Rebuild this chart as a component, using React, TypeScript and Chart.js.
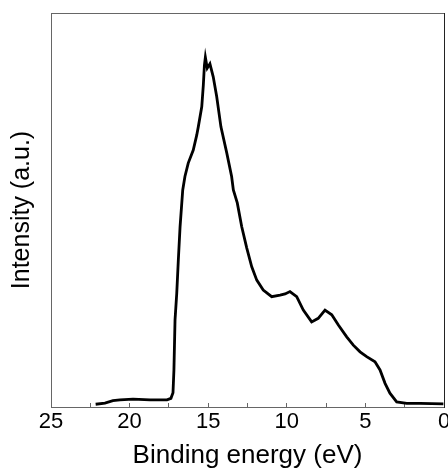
import React, { useEffect, useRef } from "react";
import { Chart, registerables } from "chart.js";

Chart.register(...registerables);

// Binding energy (eV) and intensity (a.u.)
const energy = [
  22.16, 21.57, 21.06, 20.61, 19.78, 18.7, 17.62, 17.37, 17.24, 17.18, 17.11, 17.0,
  16.9, 16.79, 16.62, 16.48, 16.27, 15.95, 15.73, 15.63, 15.41, 15.31, 15.24, 15.18,
  15.06, 14.89, 14.68, 14.46, 14.19, 13.82, 13.51, 13.4, 13.15, 12.87, 12.55, 12.23,
  11.91, 11.5, 10.96, 10.43, 10.11, 9.8, 9.37, 8.95, 8.42, 8.0, 7.57, 7.14, 6.72,
  6.19, 5.77, 5.34, 4.92, 4.39, 4.07, 3.75, 3.44, 3.01, 2.37, 1.53, 0.04,
];
const intensity = [
  0.7, 1.0, 1.6, 1.8, 2.0, 1.8, 1.8, 2.2, 3.6, 9.4, 22.1, 28.9,
  37.3, 45.7, 55.1, 58.5, 61.9, 65.2, 69.0, 71.1, 76.2, 81.7, 86.8, 88.8,
  86.0, 87.1, 83.8, 78.8, 71.1, 64.5, 58.5, 55.1, 51.8, 45.8, 40.4, 35.6,
  32.2, 29.7, 28.0, 28.4, 28.7, 29.3, 28.0, 24.6, 21.6, 22.5, 24.6, 23.4, 20.8,
  17.8, 15.7, 14.0, 12.8, 11.5, 9.4, 6.0, 3.5, 1.3, 0.9, 0.9, 0.8,
];
const xMin = 0;
const xMax = 25;
const xStep = 2.5;
const xTitle = "Binding energy (eV)";
const yTitle = "Intensity (a.u.)";

export default function App() {
  const ref = useRef<HTMLCanvasElement>(null);
  useEffect(() => {
    document.body.style.margin = "0";
    const ctx = ref.current!;
    const frame = "#666666";
    const chart = new Chart(ctx, {
      type: "line",
      data: {
        datasets: [
          {
            data: energy.map((e, i) => ({ x: e, y: intensity[i] })),
            borderColor: "#000000",
            borderWidth: 2.8,
            pointRadius: 0,
            tension: 0,
            fill: false,
          },
        ],
      },
      options: {
        animation: false,
        responsive: false,
        devicePixelRatio: 1,
        layout: { padding: 0 },
        plugins: { legend: { display: false }, tooltip: { enabled: false } },
        scales: {
          x: {
            type: "linear",
            position: "bottom",
            reverse: true,
            min: xMin,
            max: xMax,
            afterFit: (s: any) => {
              s.height = 62;
              s.paddingLeft = 0;
              s.paddingRight = 0;
            },
            ticks: {
              stepSize: xStep,
              autoSkip: false,
              maxRotation: 0,
              padding: 8,
              color: "#000",
              font: { family: "Liberation Sans, Arial", size: 22, lineHeight: 1 },
              callback: (v: any) => (Number(v) % 5 === 0 ? String(v) : ""),
            },
            grid: {
              display: true,
              drawOnChartArea: false,
              drawTicks: true,
              tickLength: -4,
              tickColor: frame,
              lineWidth: 1,
            },
            border: { display: true, color: frame, width: 1 },
            title: {
              display: true,
              text: xTitle,
              color: "#000",
              font: { family: "Liberation Sans, Arial", size: 26, lineHeight: 1 },
              padding: 0,
            },
          },
          x2: {
            type: "linear",
            position: "top",
            afterFit: (s: any) => {
              s.height = 13;
              s.paddingLeft = 0;
              s.paddingRight = 0;
            },
            ticks: { display: false },
            grid: { display: false },
            border: { display: true, color: frame, width: 1 },
          },
          y: {
            type: "linear",
            position: "left",
            min: 0,
            max: 100,
            afterFit: (s: any) => {
              s.width = 51;
            },
            ticks: { display: false },
            grid: { display: false },
            border: { display: true, color: frame, width: 1 },
            title: {
              display: true,
              text: yTitle,
              color: "#000",
              font: { family: "Liberation Sans, Arial", size: 25, lineHeight: 1 },
              padding: { top: 10, bottom: 0 },
            },
          },
          y2: {
            type: "linear",
            position: "right",
            afterFit: (s: any) => {
              s.width = 4;
            },
            ticks: { display: false },
            grid: { display: false },
            border: { display: true, color: "#222222", width: 1 },
          },
        },
      },
    });
    return () => chart.destroy();
  }, []);
  return <canvas ref={ref} width={448} height={469} style={{ display: "block" }} />;
}
